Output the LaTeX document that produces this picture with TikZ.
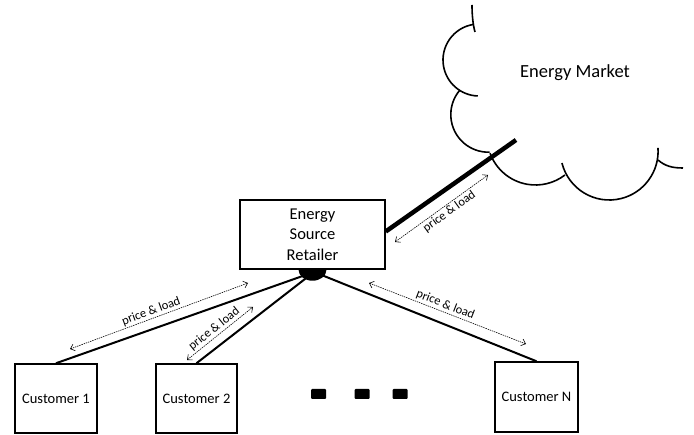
\documentclass[tikz,border=0pt]{standalone}
\usepackage{fontspec}
\setmainfont{Carlito}
\usetikzlibrary{arrows.meta}
\tikzset{
  box/.style={draw, line width=1.5pt, fill=white, inner sep=0pt},
  conn/.style={line width=2pt},
  cloudline/.style={line width=1.6pt},
  flow/.style={line width=0.6pt, dash pattern=on 1.4pt off 0.9pt, {Straight Barb[length=4pt,width=7pt]}-{Straight Barb[length=4pt,width=7pt]}},
  lbl/.style={font=\fontsize{12.5}{14}\selectfont, inner sep=1.5pt, sloped},
  dotsq/.style={fill=black, rounded corners=1pt, minimum width=15pt, minimum height=10pt, inner sep=0pt},
}
\begin{document}
\begin{tikzpicture}[x=1pt,y=1pt]
\useasboundingbox (0,0) rectangle (694,-435);
% cloud
\draw[cloudline] (472,-5) .. controls (472,-15) and (473,-25) .. (475,-32);
\draw[cloudline] (479,-60) ++(99.5:36) arc[start angle=99.5,end angle=268,radius=36];
\draw[cloudline] (488.4,-114.6) ++(139:37.6) arc[start angle=139,end angle=272,radius=37.6];
\draw[cloudline] (535.5,-136.6) ++(200:48.4) arc[start angle=200,end angle=307.5,radius=48.4];
\draw[cloudline] (609.3,-151.2) ++(194:48.8) arc[start angle=194,end angle=364,radius=48.8];
\draw[cloudline] (658,-160) .. controls (665,-166) and (672,-168) .. (683,-168);
\node[font=\fontsize{18.5}{22}\selectfont] (market) at (575,-73) {Energy Market};
\coordinate (mkt) at (516,-140);
% retailer
\node[box, minimum width=145pt, minimum height=69pt, align=center, font=\fontsize{16.5}{20.5}\selectfont] (ret) at (312.5,-234.5) {Energy\\Source\\Retailer};
\coordinate (hub) at (314,-272);
% customers
\node[box, minimum width=82pt, minimum height=69pt, font=\fontsize{14.5}{17}\selectfont] (c1) at (56,-398.5) {Customer 1};
\node[box, minimum width=81pt, minimum height=69pt, font=\fontsize{14.5}{17}\selectfont] (c2) at (196.5,-398.5) {Customer 2};
\node[box, minimum width=83pt, minimum height=70pt, font=\fontsize{14.5}{17}\selectfont] (cN) at (536.5,-397) {Customer N};
% links
\draw[line width=4.5pt] ([yshift=3pt]ret.east) -- (mkt);
\draw[conn] (c1.north) -- (hub);
\draw[conn] (c2.north) -- (hub);
\draw[conn] (cN.north) -- (hub);
\fill ([xshift=-14pt]ret.south) arc[start angle=180,end angle=360,x radius=14,y radius=11] -- cycle;
% dots
\node[dotsq] (d1) at (318.5,-394) {};
\node[dotsq] (d2) at (362,-394) {};
\node[dotsq] (d3) at (400,-394) {};
% flows
\coordinate (a1s) at (70,-349); \coordinate (a1e) at (248,-283);
\coordinate (a2s) at (187,-360); \coordinate (a2e) at (253,-307);
\coordinate (a3s) at (369,-283); \coordinate (a3e) at (526,-344);
\coordinate (a4s) at (395,-242); \coordinate (a4e) at (488,-175);
\draw[flow] (a1s) -- node[lbl, above, pos=0.47] (l1) {price \& load} (a1e);
\draw[flow] (a2s) -- node[lbl, above, pos=0.48] (l2) {price \& load} (a2e);
\draw[flow] (a3s) -- node[lbl, above, pos=0.47] (l3) {price \& load} (a3e);
\draw[flow] (a4s) -- node[lbl, below, pos=0.54] (l4) {price \& load} (a4e);
\end{tikzpicture}
\end{document}
